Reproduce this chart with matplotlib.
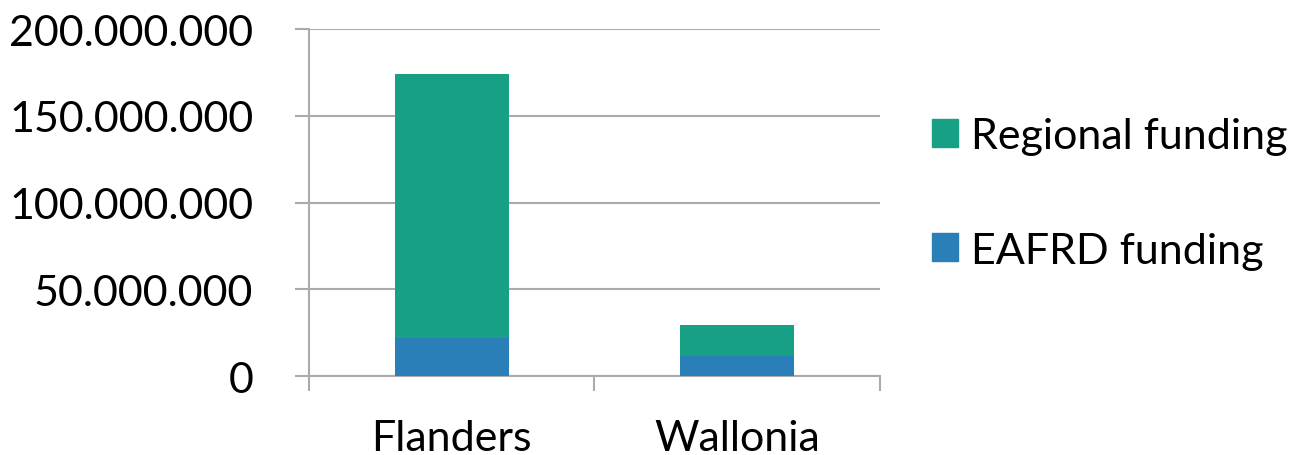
import matplotlib
matplotlib.use("Agg")
import matplotlib.pyplot as plt
from matplotlib.patches import Patch

regions = ["Flanders", "Wallonia"]
eafrd = [22_000_000, 11_500_000]
regional = [152_000_000, 18_000_000]
yticks = [0, 50_000_000, 100_000_000, 150_000_000, 200_000_000]

green = "#17A084"
blue = "#2A7FB8"
grey = "#ABABAB"

plt.rcParams["font.family"] = ["Lato", "DejaVu Sans"]
fs = 31

fig = plt.figure(figsize=(13.03, 4.56), dpi=100)
ax = fig.add_axes([0.2371, 0.1732, 0.4383, 0.7610])

x = range(len(regions))
ax.bar(x, eafrd, width=0.4, color=blue, zorder=3)
ax.bar(x, regional, width=0.4, bottom=eafrd, color=green, zorder=3)

ax.set_xlim(-0.5, 1.5)
ax.set_ylim(0, 200_000_000)
ax.set_yticks(yticks)
ax.set_yticklabels([f"{v:,}".replace(",", ".") for v in yticks])
ax.set_xticks([-0.5, 0.5, 1.5], minor=False)
ax.set_xticklabels([])
ax.set_xticks(list(x), minor=True)
ax.set_xticklabels(regions, minor=True)
ax.tick_params(axis="x", which="minor", length=0, pad=31, labelsize=fs)
ax.tick_params(axis="x", which="major", length=11, width=1.5, color=grey, direction="out")
ax.tick_params(axis="y", length=10, width=1.5, color=grey, labelsize=fs, pad=30)

ax.grid(axis="y", color=grey, linewidth=1.5, zorder=0)
for s in ["top", "right"]:
    ax.spines[s].set_visible(False)
for s in ["left", "bottom"]:
    ax.spines[s].set_color(grey)
    ax.spines[s].set_linewidth(1.5)

handles = [Patch(color=green, label="Regional funding"),
           Patch(color=blue, label="EAFRD funding")]
fig.legend(handles=handles, loc="center left", bbox_to_anchor=(0.715, 0.574),
           frameon=False, fontsize=fs, handlelength=0.62, handleheight=0.62,
           handletextpad=0.3, labelspacing=1.78, borderpad=0, borderaxespad=0)

fig.savefig("out.png", dpi=100)
